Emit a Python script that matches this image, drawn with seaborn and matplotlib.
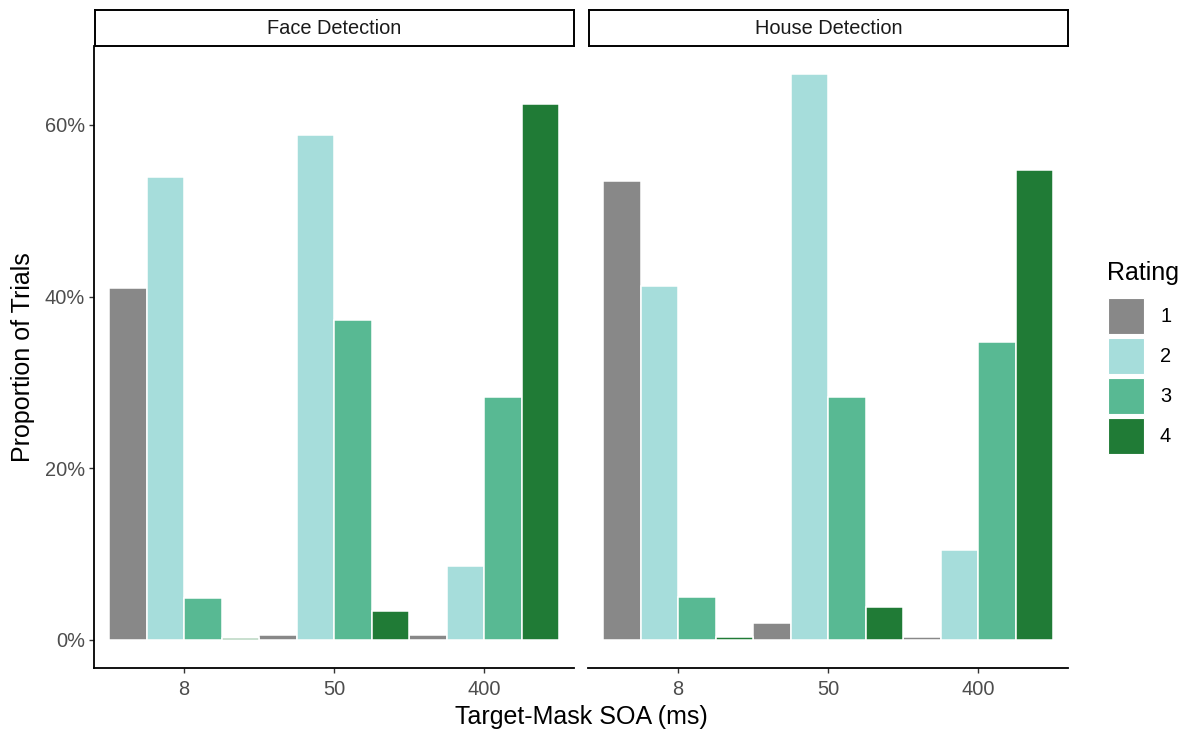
import matplotlib
matplotlib.use("Agg")
import matplotlib.pyplot as plt
import matplotlib.patches as mpatches
from matplotlib.ticker import PercentFormatter
import numpy as np
import pandas as pd
import seaborn as sns

# data (proportion of trials)
soa = ["8", "50", "400"]
ratings = ["1", "2", "3", "4"]
panels = ["Face Detection", "House Detection"]

face_r1 = [0.410, 0.006, 0.005]
face_r2 = [0.539, 0.588, 0.086]
face_r3 = [0.049, 0.373, 0.283]
face_r4 = [0.002, 0.033, 0.624]

house_r1 = [0.535, 0.019, 0.003]
house_r2 = [0.412, 0.659, 0.104]
house_r3 = [0.050, 0.283, 0.347]
house_r4 = [0.003, 0.038, 0.548]

colors = ["#888888", "#A6DDDB", "#58B993", "#207B36"]


def make_df(series):
    rows = []
    for rating, vals in zip(ratings, series):
        for s, v in zip(soa, vals):
            rows.append({"SOA": s, "Rating": rating, "Proportion": v})
    return pd.DataFrame(rows)


dfs = {
    "Face Detection": make_df([face_r1, face_r2, face_r3, face_r4]),
    "House Detection": make_df([house_r1, house_r2, house_r3, house_r4]),
}

sns.set_style("white")
plt.rcParams["font.family"] = ["Liberation Sans", "DejaVu Sans"]

BASE = 18
SMALL = 14.4

W, H = 1189, 730
fig = plt.figure(figsize=(W / 100, H / 100), dpi=100)

ymax = max(face_r2 + face_r4 + house_r1 + house_r2 + house_r4)
pad = ymax * 0.05

panel_x = [94, 588]
panel_w = 480
top_px, bot_px = 46, 668

for i, name in enumerate(panels):
    ax = fig.add_axes([panel_x[i] / W, (H - bot_px) / H, panel_w / W, (bot_px - top_px) / H])
    sns.barplot(data=dfs[name], x="SOA", y="Proportion", hue="Rating",
                order=soa, hue_order=ratings, palette=colors, saturation=1,
                width=1.0, edgecolor="white", linewidth=1.1,
                errorbar=None, legend=False, ax=ax)
    ax.set_xlim(-0.6, 2.6)
    ax.set_ylim(-pad, ymax + pad)
    ax.set_yticks([0, 0.2, 0.4, 0.6])
    ax.yaxis.set_major_formatter(PercentFormatter(xmax=1, decimals=0))
    ax.set_xlabel("")
    ax.set_ylabel("")
    for sp in ["top", "right"]:
        ax.spines[sp].set_visible(False)
    ax.spines["bottom"].set_color("black")
    ax.spines["bottom"].set_linewidth(1.3)
    ax.tick_params(axis="x", length=3.5, width=1.0, color="#333333",
                   labelsize=SMALL, labelcolor="#4D4D4D", pad=5, bottom=True)
    if i == 0:
        ax.spines["left"].set_color("black")
        ax.spines["left"].set_linewidth(1.3)
        ax.tick_params(axis="y", length=3.5, width=1.0, color="#333333",
                       labelsize=SMALL, labelcolor="#4D4D4D", pad=3, left=True)
        ax.set_ylabel("Proportion of Trials", fontsize=BASE, color="black", labelpad=7)
    else:
        ax.spines["left"].set_visible(False)
        ax.tick_params(axis="y", left=False, labelleft=False)

    # facet strip
    sax = fig.add_axes([(panel_x[i] + 1) / W, (H - top_px) / H, (panel_w - 1) / W, 36 / H])
    sax.set_xticks([])
    sax.set_yticks([])
    for sp in sax.spines.values():
        sp.set_color("black")
        sp.set_linewidth(1.4)
    sax.text(0.5, 0.5, name, ha="center", va="center", fontsize=SMALL, color="#1A1A1A")

fig.text(581 / W, 1 - 717 / H, "Target-Mask SOA (ms)", ha="center", va="center",
         fontsize=BASE, color="black")

# legend, laid out like ggplot's guide
fig.text(1107 / W, 1 - 273 / H, "Rating", ha="left", va="center",
         fontsize=BASE, color="black")
for k, (lab, c) in enumerate(zip(ratings, colors)):
    y_top = 298 + 40 * k
    fig.add_artist(mpatches.Rectangle((1108 / W, 1 - (y_top + 36) / H), 36 / W, 36 / H,
                                      transform=fig.transFigure, facecolor=c,
                                      edgecolor="white", linewidth=0.8))
    fig.text(1160 / W, 1 - (y_top + 18) / H, lab, ha="left", va="center",
             fontsize=SMALL, color="black")

fig.savefig("out.png", dpi=100, facecolor="white")
